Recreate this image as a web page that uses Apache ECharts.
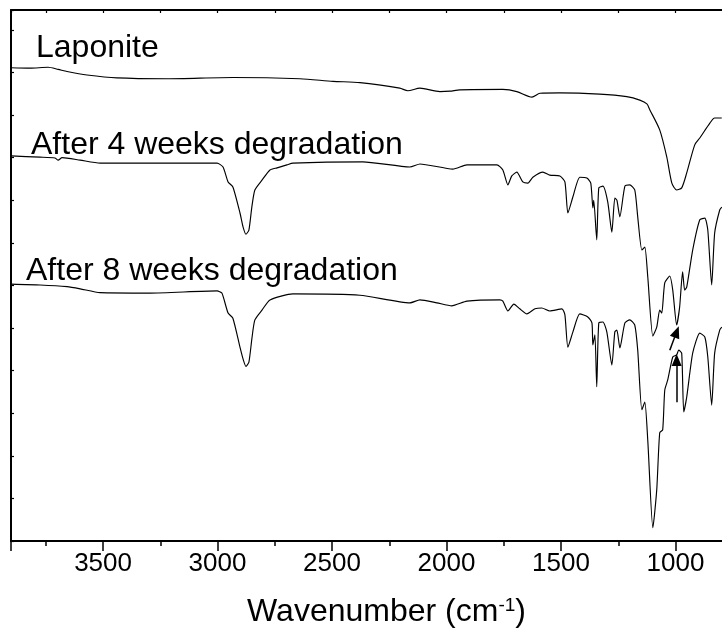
<!DOCTYPE html>
<html>
<head>
<meta charset="utf-8">
<script src="https://cdn.jsdelivr.net/npm/echarts@6/dist/echarts.min.js"></script>
<style>
html,body{margin:0;padding:0;background:#fff;overflow:hidden;}
#chart{width:722px;height:630px;}
</style>
</head>
<body>
<div id="chart"></div>
<script>
// Wavenumber axis ticks
var xTickLabels = [500, 1000, 1500, 2000, 2500, 3000, 3500];

// Series labels
var seriesNames = ['Laponite', 'After 4 weeks degradation', 'After 8 weeks degradation'];

// Laponite spectrum (wavenumber, offset transmittance, arbitrary units)
var lapWn = [3902,3819,3740,3696,3657,3570,3439,3221,2933,2640,2496,2378,2204,2169,2116,2029,1985,1942,1754,1693,1627,1592,1505,1331,1213,1156,1125,1112,1069,1038,1016,995,973,951,916,894,850,829,798];
var lapT  = [111.1,111.0,111.2,110.7,110.2,109.4,108.7,108.5,108.8,108.5,107.9,107.6,106.3,105.7,106.3,105.5,105.6,105.9,106.0,105.5,104.2,105.1,105.2,104.9,104.3,103.5,102.6,101.2,96.5,90.1,84.0,82.4,82.9,86.4,93.0,94.6,98.1,99.3,99.3];

// After 4 weeks degradation
var wk4Wn = [3902,3775,3710,3696,3679,3600,3513,3295,3002,2976,2954,2933,2902,2889,2876,2863,2850,2837,2806,2771,2740,2697,2671,2365,2160,2116,1972,1911,1780,1754,1732,1715,1693,1667,1645,1623,1579,1549,1505,1483,1470,1448,1418,1387,1370,1361,1357,1344,1335,1317,1296,1278,1265,1256,1243,1221,1200,1178,1165,1147,1134,1121,1099,1082,1069,1060,1047,1025,1012,995,982,969,960,951,925,894,872,859,842,829,807,798];
var wk4T  = [90.4,90.1,89.9,89.4,90.0,89.4,88.7,88.7,88.7,87.8,84.3,83.1,77.0,73.8,72.0,73.0,78.5,82.4,84.7,87.1,87.6,88.3,88.7,89.0,87.8,88.5,87.3,88.3,88.3,87.1,83.6,85.7,86.6,84.3,84.0,85.4,86.6,85.9,85.7,84.3,77.0,80.8,85.4,85.2,84.0,78.2,80.0,70.7,82.9,83.3,79.6,72.5,80.5,80.0,76.1,83.3,83.6,82.4,76.1,68.3,69.0,61.9,48.1,50.2,54.2,53.5,60.6,62.2,58.9,50.7,54.9,63.2,58.9,59.6,68.3,75.4,75.8,73.0,60.1,72.3,77.7,78.4];

// After 8 weeks degradation
var wk8Wn = [3902,3775,3657,3600,3513,3295,3002,2981,2954,2933,2902,2889,2876,2863,2850,2837,2806,2771,2671,2378,2160,2116,2042,1977,1911,1767,1754,1732,1706,1680,1649,1614,1584,1549,1496,1483,1470,1448,1418,1383,1365,1361,1352,1344,1335,1317,1300,1278,1265,1256,1243,1221,1200,1178,1165,1147,1134,1121,1099,1082,1069,1056,1047,1034,1012,995,986,973,964,951,925,894,872,859,842,829,807,798];
var wk8T  = [60.3,60.1,59.7,59.2,58.3,58.2,58.7,58.2,53.5,52.3,45.5,42.8,41.0,42.0,47.5,51.9,54.2,56.6,58.0,57.7,55.9,56.6,55.9,55.2,56.3,56.6,56.3,54.0,55.6,54.5,53.3,54.5,54.7,54.0,54.5,53.1,45.5,49.1,53.3,52.6,51.2,46.0,48.4,36.2,51.2,51.4,49.1,41.3,49.1,49.5,45.3,51.2,51.9,50.7,44.8,30.8,32.6,23.5,3.1,12.0,25.4,26.1,35.4,37.8,43.2,43.7,44.8,44.1,30.3,33.8,44.1,48.8,47.9,43.2,31.9,44.1,49.5,50.2];

// Arrow annotations [wnStart, tStart, wnEnd, tEnd]
var arrow1 = [1025, 44.8, 995, 49.1];
var arrow2 = [995, 32.6, 995, 42.5];

function zip(a, b) { return a.map(function (v, i) { return [v, b[i]]; }); }

var FONT = '"Liberation Sans", Arial, Helvetica, sans-serif';
var chart = echarts.init(document.getElementById('chart'), null, {renderer: 'canvas'});

var baseX = {
  type: 'value', min: 500, max: 3902, inverse: true, gridIndex: 0,
  splitLine: {show: false}
};

var lineStyle = {color: '#000', width: 1.15};

var option = {
  backgroundColor: '#fff',
  animation: false,
  grid: {left: 11, top: 10, width: 779, height: 531, containLabel: false, outerBoundsMode: 'none'},
  xAxis: [
    Object.assign({}, baseX, {
      position: 'bottom', interval: 500,
      axisLine: {show: true, onZero: false, lineStyle: {color: '#000', width: 2}},
      axisTick: {show: true, inside: false, length: 10, lineStyle: {color: '#000', width: 1.5}},
      axisLabel: {show: true, color: '#000', fontSize: 26, fontFamily: FONT, margin: 10,
        formatter: function (v) { return xTickLabels.indexOf(v) >= 0 ? String(v) : ''; }},
      name: 'Wavenumber (cm{sup|-1})', nameLocation: 'middle', nameGap: 55,
      nameTextStyle: {color: '#000', fontSize: 32, fontFamily: FONT, padding: [0, 28, 0, 0],
        rich: {sup: {fontSize: 19, fontFamily: FONT, color: '#000', verticalAlign: 'top', padding: [0, 0, 13, 0]}}}
    }),
    Object.assign({}, baseX, {
      position: 'bottom', interval: 250,
      axisLine: {show: false, onZero: false},
      axisTick: {show: true, inside: false, length: 5, lineStyle: {color: '#000', width: 1.5}},
      axisLabel: {show: false}
    }),
    Object.assign({}, baseX, {
      position: 'top', interval: 250,
      axisLine: {show: true, onZero: false, lineStyle: {color: '#000', width: 2}},
      axisTick: {show: true, inside: true, length: 3, lineStyle: {color: '#000', width: 1.2}},
      axisLabel: {show: false}
    })
  ],
  yAxis: [{
    type: 'value', min: 0, max: 124.65, interval: 10,
    axisLine: {show: true, onZero: false, lineStyle: {color: '#000', width: 2}},
    axisTick: {show: true, inside: true, length: 3, lineStyle: {color: '#000', width: 1.2}},
    axisLabel: {show: false},
    splitLine: {show: false}
  }],
  series: [
    {name: seriesNames[0], type: 'line', data: zip(lapWn, lapT), showSymbol: false, smooth: 0.25, lineStyle: lineStyle, silent: true},
    {name: seriesNames[1], type: 'line', data: zip(wk4Wn, wk4T), showSymbol: false, smooth: 0.2, lineStyle: lineStyle, silent: true,
      markLine: {silent: true, symbol: ['none', 'triangle'], symbolSize: [10, 12], animation: false,
        lineStyle: {color: '#000', width: 1.5, type: 'solid'}, label: {show: false},
        data: [[{coord: [arrow1[0], arrow1[1]]}, {coord: [arrow1[2], arrow1[3]]}],
               [{coord: [arrow2[0], arrow2[1]]}, {coord: [arrow2[2], arrow2[3]]}]]}},
    {name: seriesNames[2], type: 'line', data: zip(wk8Wn, wk8T), showSymbol: false, smooth: 0.2, lineStyle: lineStyle, silent: true}
  ],
  graphic: [
    {type: 'text', left: 36, top: 32, style: {text: seriesNames[0], font: '32px ' + FONT, fill: '#000'}},
    {type: 'text', left: 31, top: 129, style: {text: seriesNames[1], font: '32px ' + FONT, fill: '#000'}},
    {type: 'text', left: 26, top: 255, style: {text: seriesNames[2], font: '32px ' + FONT, fill: '#000'}}
  ]
};
chart.setOption(option);
</script>
</body>
</html>
